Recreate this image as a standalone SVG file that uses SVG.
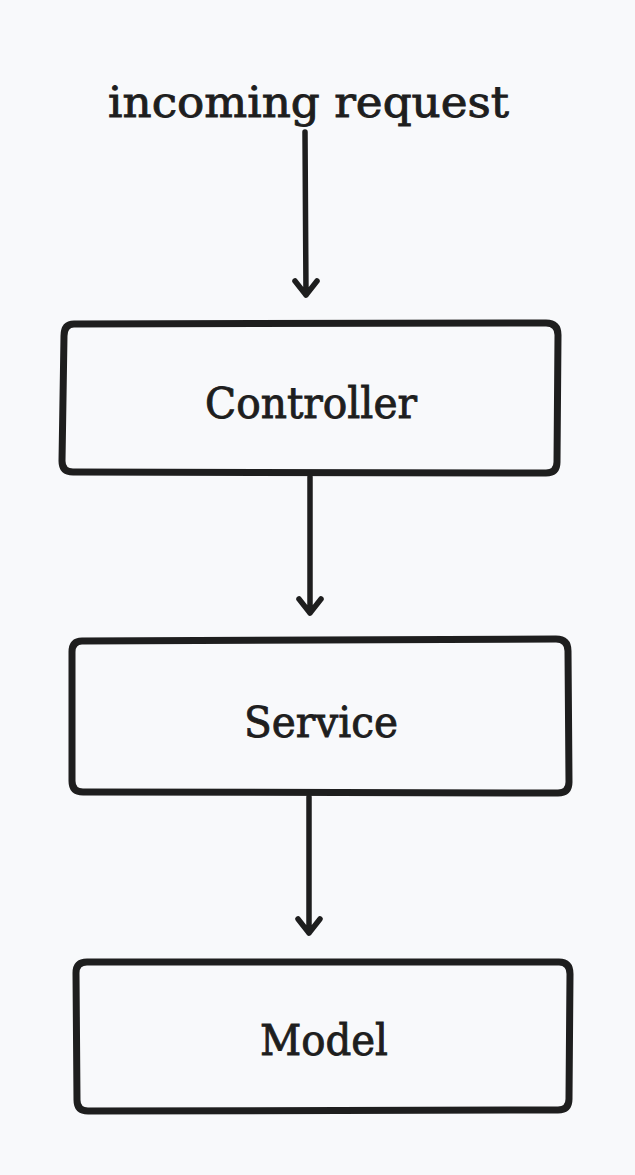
<svg xmlns="http://www.w3.org/2000/svg" width="635" height="1175" viewBox="0 0 635 1175">
<defs>
<style>
.box{fill:#f8f9fb;stroke:#1e1e1e;stroke-width:7;stroke-linejoin:round}
.lbl{font-family:"DejaVu Serif","Liberation Serif",serif;fill:#1e1e1e;stroke:#1e1e1e;stroke-width:0.9;font-size:42px}
.edge{stroke:#1e1e1e;stroke-width:5.5;fill:none;stroke-linecap:round;stroke-linejoin:round}
</style>
</defs>
<rect width="635" height="1175" fill="#f8f9fb"/>
<g id="title">
<text class="lbl" x="108" y="117" font-size="49" textLength="401" lengthAdjust="spacingAndGlyphs">incoming request</text>
</g>
<g id="controller">
<path class="box" d="M74,324 L546,323 Q558,323 558,335 L557,462 Q557,473 546,473 L73,472 Q62,472 62,461 L64,336 Q64,324 74,324 Z"/>
<text class="lbl" x="205" y="418" textLength="212" lengthAdjust="spacingAndGlyphs">Controller</text>
</g>
<g id="service">
<path class="box" d="M82,641 L556,639 Q568,639 568,651 L569,782 Q569,793 558,793 L83,792 Q72,792 72,781 L72,652 Q72,641 82,641 Z"/>
<text class="lbl" x="244" y="737" textLength="154" lengthAdjust="spacingAndGlyphs">Service</text>
</g>
<g id="model">
<path class="box" d="M87,962 L559,962 Q570,962 570,974 L569,1099 Q569,1110 558,1110 L88,1111 Q77,1111 77,1100 L76,973 Q76,962 87,962 Z"/>
<text class="lbl" x="260" y="1055" textLength="128" lengthAdjust="spacingAndGlyphs">Model</text>
</g>
<g id="connectors">
<path class="edge" d="M305,132 L306,295 M295,281 L306,295 L317,281"/>
<path class="edge" d="M310,477 L310,613 M299,599 L310,613 L321,599"/>
<path class="edge" d="M309,797 L309,933 M298,919 L309,933 L320,919"/>
</g>
</svg>
